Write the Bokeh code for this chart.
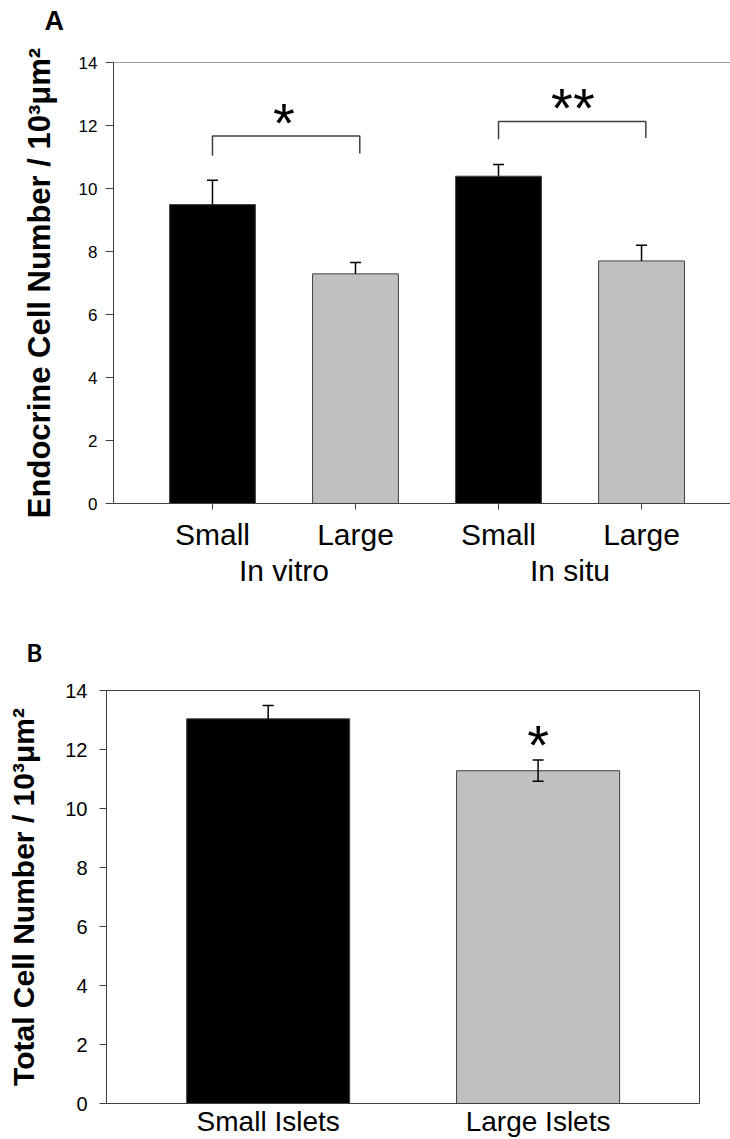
from bokeh.plotting import figure
from bokeh.models import (ColumnDataSource, FixedTicker, LinearAxis, Range1d,
                          Span, Whisker, TeeHead)
from bokeh.core.properties import value
from bokeh.embed import file_html
from bokeh.resources import INLINE

# ---------------- Panel A data ----------------
a_groups = ["In vitro", "In vitro", "In situ", "In situ"]
a_sizes = ["Small", "Large", "Small", "Large"]
a_means = [9.49, 7.29, 10.39, 7.70]
a_sem = [0.77, 0.36, 0.37, 0.50]
a_colors = ["#000000", "#c0c0c0", "#000000", "#c0c0c0"]
a_yticks = [0, 2, 4, 6, 8, 10, 12, 14]
a_group_names = ["In vitro", "In situ"]
# significance brackets (x in bar-index units, y in data units)
a_br_left = [1.0, 3.0]
a_br_right = [2.03, 4.03]
a_br_top = [11.67, 12.13]
a_br_left_end = [11.04, 11.56]
a_br_right_end = [11.11, 11.60]
a_sig_x = [1.5, 3.52]
a_sig_y = [12.31, 12.8]
a_sig_text = ["*", "**"]

# ---------------- Panel B data ----------------
b_cats = ["Small Islets", "Large Islets"]
b_means = [13.04, 11.28]
b_sem = [0.45, 0.36]
b_colors = ["#000000", "#c0c0c0"]
b_yticks = [0, 2, 4, 6, 8, 10, 12, 14]
b_sig_x = [2]
b_sig_y = [12.42]
b_sig_text = ["*"]

AX = "#404040"
FONT = "Liberation Sans"
STAR_OFFSET = 7


def style_axis(ax, tick_out, label_size, standoff):
    ax.axis_line_color = AX
    ax.axis_line_width = 1
    ax.major_tick_line_color = AX
    ax.major_tick_out = tick_out
    ax.major_tick_in = 0
    ax.minor_tick_line_color = None
    ax.major_label_text_font = FONT
    ax.major_label_text_font_size = label_size
    ax.major_label_text_color = "black"
    ax.major_label_standoff = standoff


def spacer_axis(height, at):
    # invisible axis above the frame that lifts the panel letter upward
    ax = LinearAxis(ticker=FixedTicker(ticks=[at]), major_tick_out=height,
                    major_tick_in=0, minor_tick_out=0, minor_tick_in=0,
                    major_label_standoff=0,
                    major_label_overrides={at: ""})
    ax.axis_line_color = None
    ax.major_tick_line_color = None
    ax.minor_tick_line_color = None
    ax.major_label_text_font_size = "1px"
    return ax


def panel_letter(p, text, font, size, offset):
    p.title.text = text
    p.title.align = "left"
    p.title.offset = offset
    p.title.standoff = 0
    p.title.text_font = font
    p.title.text_font_size = size
    p.title.text_font_style = "bold"
    p.title.text_color = "black"


# ================= Panel A =================
a_pos = list(range(1, len(a_means) + 1))
srcA = ColumnDataSource(dict(
    x=a_pos, top=a_means, upper=[m + s for m, s in zip(a_means, a_sem)],
    color=a_colors))

pA = figure(width=730, height=600, output_backend="svg", toolbar_location=None,
            x_range=Range1d(0.308, 4.622), y_range=Range1d(0, 14),
            min_border_left=113, min_border_right=0,
            min_border_top=62, min_border_bottom=97)
pA.outline_line_color = None
pA.grid.visible = False
pA.background_fill_color = "white"
pA.border_fill_color = "white"

ya = pA.left[0]
ya.ticker = FixedTicker(ticks=a_yticks)
style_axis(ya, 8, "17px", 8)
ya.axis_label = "Endocrine Cell Number / 10³μm²"
ya.axis_label_text_font = FONT
ya.axis_label_text_font_size = "31px"
ya.axis_label_text_font_style = "bold"
ya.axis_label_text_color = "black"
ya.axis_label_standoff = 19

xa = pA.below[0]
xa.ticker = FixedTicker(ticks=a_pos)
xa.major_label_overrides = {p: s for p, s in zip(a_pos, a_sizes)}
style_axis(xa, 6, "30px", 8)

group_pos = []
for g in a_group_names:
    ps = [p for p, gg in zip(a_pos, a_groups) if gg == g]
    group_pos.append(sum(ps) / len(ps))
xg = LinearAxis(ticker=FixedTicker(ticks=group_pos),
                major_label_overrides={p: g for p, g in zip(group_pos, a_group_names)})
style_axis(xg, 0, "30px", 0)
xg.axis_line_color = None
xg.major_tick_line_color = None
pA.add_layout(xg, "below")

pA.add_layout(spacer_axis(27, a_pos[0]), "above")
panel_letter(pA, "A", FONT, "27px", -69)

pA.add_layout(Span(location=a_yticks[-1], dimension="width", line_color=AX, line_width=1))

pA.vbar(x="x", top="top", bottom=0, width=0.6, fill_color="color",
        line_color=AX, line_width=1, source=srcA)
pA.add_layout(Whisker(base="x", lower="top", upper="upper", source=srcA,
                      lower_head=None,
                      upper_head=TeeHead(size=11, line_color="black", line_width=1.5),
                      line_color="black", line_width=1.5, level="overlay"))

pA.multi_line(xs=[[l, l, r, r] for l, r in zip(a_br_left, a_br_right)],
              ys=[[le, t, t, re] for le, t, re in zip(a_br_left_end, a_br_top, a_br_right_end)],
              line_color=AX, line_width=1.5)
pA.text(x=a_sig_x, y=a_sig_y, text=a_sig_text, text_font=value(FONT),
        text_font_size="56px", text_align="center", text_baseline="alphabetic",
        y_offset=STAR_OFFSET, text_color="black")

# ================= Panel B =================
b_pos = list(range(1, len(b_means) + 1))
srcB = ColumnDataSource(dict(
    x=b_pos, top=b_means,
    lower=[m - s for m, s in zip(b_means, b_sem)],
    upper=[m + s for m, s in zip(b_means, b_sem)],
    color=b_colors))

pB = figure(width=730, height=539, output_backend="svg", toolbar_location=None,
            x_range=Range1d(0.401, 2.598), y_range=Range1d(0, 14),
            min_border_left=106, min_border_right=31,
            min_border_top=90, min_border_bottom=35)
pB.outline_line_color = AX
pB.outline_line_width = 1
pB.grid.visible = False
pB.background_fill_color = "white"
pB.border_fill_color = "white"

yb = pB.left[0]
yb.ticker = FixedTicker(ticks=b_yticks)
style_axis(yb, 7, "20px", 12)
yb.axis_label = "Total Cell Number / 10³μm²"
yb.axis_label_text_font = FONT
yb.axis_label_text_font_size = "30px"
yb.axis_label_text_font_style = "bold"
yb.axis_label_text_color = "black"
yb.axis_label_standoff = 22

xb = pB.below[0]
xb.ticker = FixedTicker(ticks=b_pos)
xb.major_label_overrides = {p: s for p, s in zip(b_pos, b_cats)}
style_axis(xb, 0, "28px", 2)
xb.major_tick_line_color = None

pB.add_layout(spacer_axis(24, b_pos[0]), "above")
panel_letter(pB, "B", "Lato", "24px", -80)

pB.vbar(x="x", top="top", bottom=0, width=0.604, fill_color="color",
        line_color=AX, line_width=1, source=srcB)
pB.add_layout(Whisker(base="x", lower="lower", upper="upper", source=srcB,
                      lower_head=TeeHead(size=11, line_color="black", line_width=1.5),
                      upper_head=TeeHead(size=11, line_color="black", line_width=1.5),
                      line_color="black", line_width=1.5, level="overlay"))
pB.text(x=b_sig_x, y=b_sig_y, text=b_sig_text, text_font=value(FONT),
        text_font_size="56px", text_align="center", text_baseline="alphabetic",
        y_offset=STAR_OFFSET, text_color="black")

open("out.html", "w").write(file_html([pA, pB], INLINE))
